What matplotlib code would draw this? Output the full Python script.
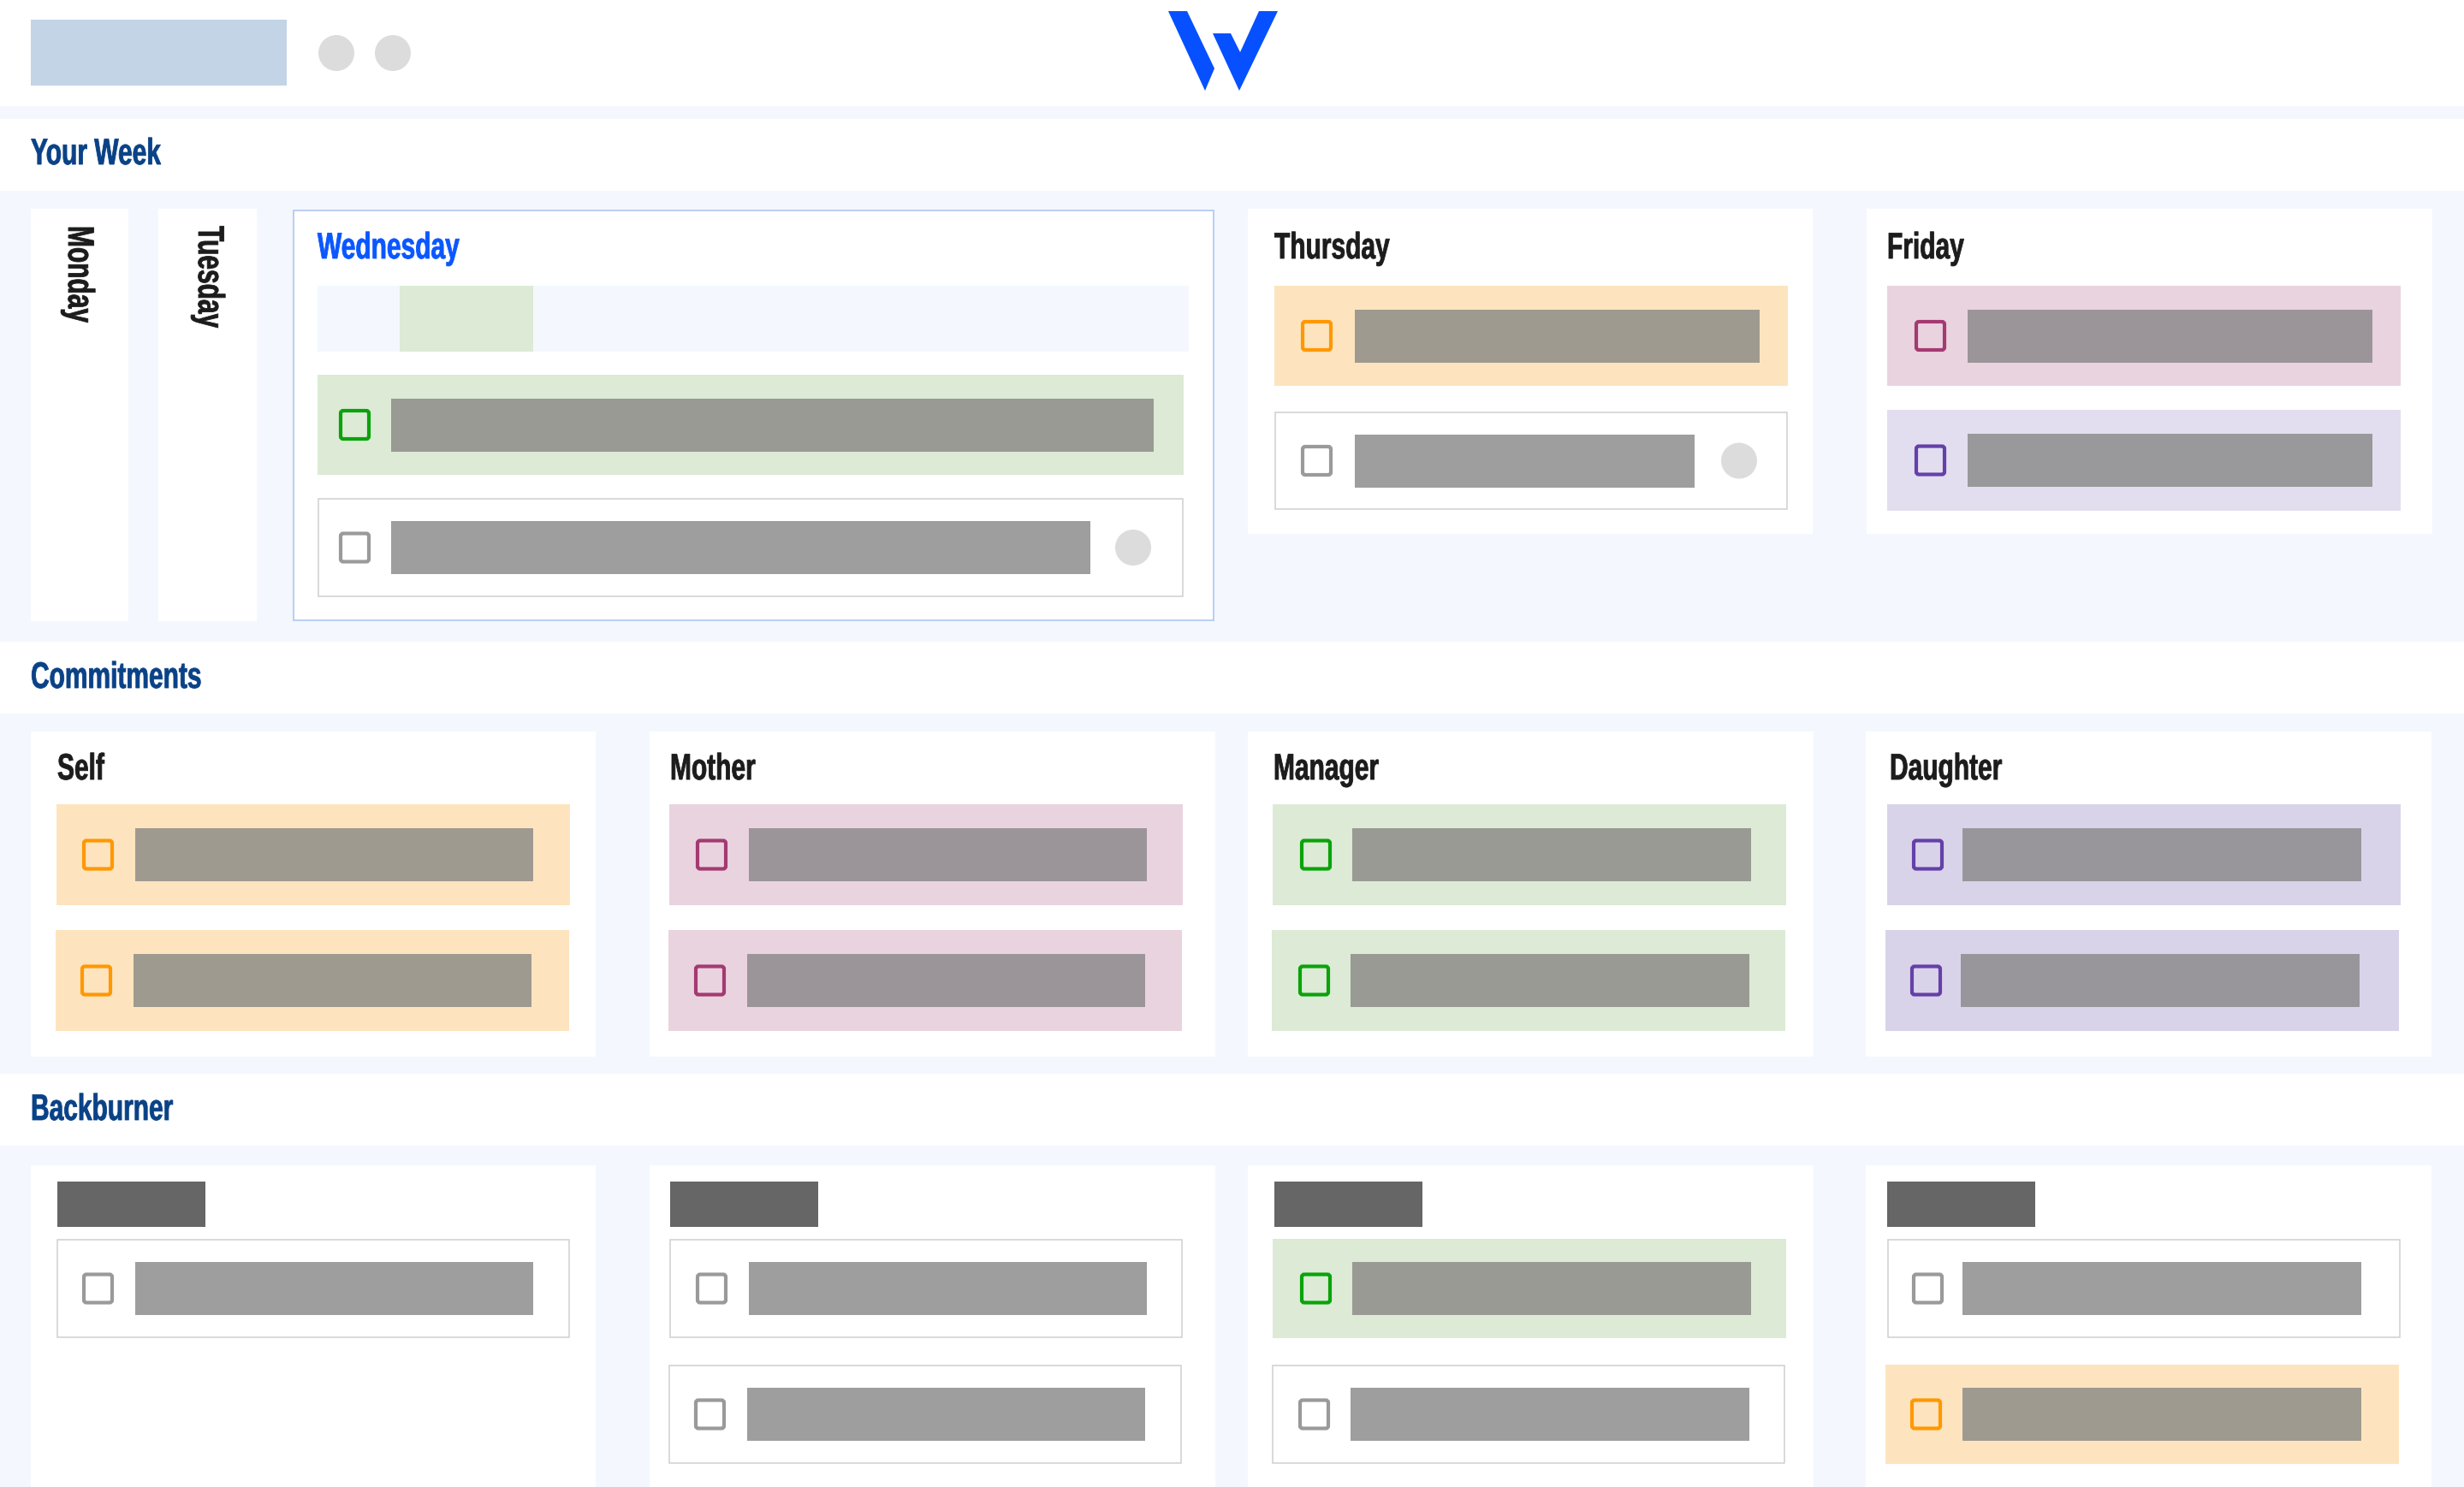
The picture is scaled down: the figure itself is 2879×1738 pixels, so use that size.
import matplotlib
matplotlib.use('Agg')
import matplotlib.pyplot as plt
from matplotlib.patches import Rectangle, Ellipse, Polygon, FancyBboxPatch
from matplotlib.patheffects import AbstractPathEffect
from matplotlib.transforms import Affine2D

# ------------------------------
# Data
# ------------------------------
section_titles = ['Your Week', 'Commitments', 'Backburner']
collapsed_days = ['Monday', 'Tuesday']
week_days = ['Wednesday', 'Thursday', 'Friday']
commitment_names = ['Self', 'Mother', 'Manager', 'Daughter']

# colour key of every task row, per column
wed_rows = ['green', 'plain']
thu_rows = ['orange', 'plain']
fri_rows = ['pink', 'lilac']
commitment_rows = [['orange', 'orange'], ['pink', 'pink'],
                   ['green', 'green'], ['purple', 'purple']]
backburner_rows = [['plain'], ['plain', 'plain'],
                   ['green', 'plain'], ['plain', 'orange']]

# row fill, bar fill, checkbox edge
palette = {
    'green': ('#dcead6', '#989a93', '#0aa30a'),
    'orange': ('#fde4bf', '#9f9a90', '#ff9800'),
    'pink': ('#e9d3df', '#9b959a', '#a43a72'),
    'lilac': ('#e2deef', '#99989b', '#6540a8'),
    'purple': ('#d9d3e9', '#98969b', '#6540a8'),
    'plain': ('#ffffff', '#9e9e9e', '#9a9a9a'),
}

BG = '#f4f7fe'
NAVY = '#0a4287'
BLUE = '#0b57ff'
DARK = '#1c1c1c'
FONT = ['Liberation Sans', 'DejaVu Sans']


# no condensed face is installed, so squeeze the glyphs along the baseline
# and thicken them a little to keep the heavy stems
class Condense(AbstractPathEffect):
    def __init__(self, factor, stroke):
        super().__init__()
        self.factor = factor
        self.stroke = stroke

    def draw_path(self, renderer, gc, tpath, affine, rgbFace=None):
        gc0 = renderer.new_gc()
        gc0.copy_properties(gc)
        gc0.set_linewidth(self.stroke)
        gc0.set_foreground(rgbFace)
        renderer.draw_path(gc0, tpath, Affine2D().scale(self.factor, 1) + affine, rgbFace)
        gc0.restore()


fig = plt.figure(figsize=(28.79, 17.38), dpi=100, facecolor=BG)
ax = fig.add_axes([0, 0, 1, 1])
ax.set_xlim(0, 2879)
ax.set_ylim(1738, 0)
ax.axis('off')


def box(x0, y0, x1, y1, color, edge=None, lw=0):
    ax.add_patch(Rectangle((x0, y0), x1 - x0, y1 - y0, facecolor=color,
                           edgecolor=edge if edge else 'none', linewidth=lw))


def dot(cx, cy):
    ax.add_patch(Ellipse((cx, cy), 42, 42, facecolor='#dcdcdc', edgecolor='none'))


def label(x, y, s, color=DARK, size=31, rotation=0, **kw):
    opts = dict(ha='left', va='center')
    opts.update(kw)
    ax.text(x, y, s, color=color, fontsize=size, fontweight='bold', family=FONT,
            rotation=rotation, path_effects=[Condense(0.695, 0.6)], **opts)


def task(kind, x0, x1, y0, y1, bar_x0, bar_x1, cb_x, avatar=None):
    fill, bar, tick = palette[kind]
    if kind == 'plain':
        box(x0 + 1, y0 + 1, x1 - 1, y1 - 1, fill, '#d0d0d0', 1.1)
    else:
        box(x0, y0, x1, y1, fill)
    mid = (y0 + y1) / 2
    box(bar_x0, mid - 31, bar_x1, mid + 31, bar)
    ax.add_patch(FancyBboxPatch((cb_x, mid - 16.5), 33, 33, boxstyle='round,pad=0,rounding_size=3',
                                facecolor='none' if kind != 'plain' else 'white',
                                edgecolor=tick, linewidth=3))
    if avatar:
        dot(avatar, mid)


# ------------------------------
# Header and section bands
# ------------------------------
box(0, 0, 2879, 124, 'white')
box(36, 23, 335, 100, '#c3d4e6')
dot(393, 62)
dot(459, 62)

# logo
LOGO = '#0650ff'
ax.add_patch(Polygon([(1365, 13), (1387, 13), (1419, 80), (1408, 106)], facecolor=LOGO, edgecolor='none'))
ax.add_patch(Polygon([(1417, 39), (1438, 39), (1449, 61), (1471, 13), (1493, 13), (1448, 106)],
                     facecolor=LOGO, edgecolor='none'))

band_tops = [139, 750, 1255]
band_bottoms = [223, 834, 1339]
band_label_y = [181, 793, 1298]
for title, top, bottom, ty in zip(section_titles, band_tops, band_bottoms, band_label_y):
    box(0, top, 2879, bottom, 'white')
    label(36, ty, title, color=NAVY)

# ------------------------------
# Your Week
# ------------------------------
box(36, 244, 150, 726, 'white')
box(185, 244, 300, 726, 'white')
label(91, 264, collapsed_days[0], rotation=-90, ha='center', va='top')
label(243, 264, collapsed_days[1], rotation=-90, ha='center', va='top')

box(343, 246, 1418, 725, 'white', '#b3cbf2', 1.3)
label(371, 291, week_days[0], color=BLUE)
box(371, 334, 1389, 411, BG)
box(467, 334, 623, 411, palette['green'][0])
task(wed_rows[0], 371, 1383, 438, 555, 457, 1348, 398)
task(wed_rows[1], 371, 1383, 582, 698, 457, 1274, 398, avatar=1324)

box(1458, 244, 2118, 624, 'white')
label(1489, 291, week_days[1])
task(thu_rows[0], 1489, 2089, 334, 451, 1583, 2056, 1522)
task(thu_rows[1], 1489, 2089, 481, 596, 1583, 1980, 1522, avatar=2032)

box(2181, 244, 2842, 624, 'white')
label(2205, 291, week_days[2])
task(fri_rows[0], 2205, 2805, 334, 451, 2299, 2772, 2239)
task(fri_rows[1], 2205, 2805, 479, 597, 2299, 2772, 2239)

# ------------------------------
# Commitments and Backburner columns
# ------------------------------
card_x0 = [36, 759, 1458, 2180]
card_x1 = [696, 1420, 2119, 2841]
title_x = [67, 783, 1488, 2208]
row_x0 = [[66, 65], [782, 781], [1487, 1486], [2205, 2203]]
row_x1 = [[666, 665], [1382, 1381], [2087, 2086], [2805, 2803]]
bar_x0 = [[158, 156], [875, 873], [1580, 1578], [2293, 2291]]
bar_x1 = [[623, 621], [1340, 1338], [2046, 2044], [2759, 2757]]
check_x = [[98, 96], [815, 813], [1521, 1519], [2236, 2234]]

commit_y = [(940, 1058), (1087, 1205)]
back_y = [(1448, 1564), (1595, 1711)]
head_x0 = [67, 783, 1489, 2205]

for c in range(4):
    box(card_x0[c], 855, card_x1[c], 1235, 'white')
    label(title_x[c], 900, commitment_names[c])
    for r, kind in enumerate(commitment_rows[c]):
        task(kind, row_x0[c][r], row_x1[c][r], commit_y[r][0], commit_y[r][1],
             bar_x0[c][r], bar_x1[c][r], check_x[c][r])

    box(card_x0[c], 1362, card_x1[c], 1738, 'white')
    box(head_x0[c], 1381, head_x0[c] + 173, 1434, '#666666')
    for r, kind in enumerate(backburner_rows[c]):
        # last column's orange row is nudged 2px to the right in the source
        nudge = 2 if (c == 3 and r == 1) else 0
        task(kind, row_x0[c][r], row_x1[c][r], back_y[r][0], back_y[r][1],
             bar_x0[c][r] + nudge, bar_x1[c][r] + nudge, check_x[c][r])

plt.savefig('out.png', dpi=100, facecolor=BG)
